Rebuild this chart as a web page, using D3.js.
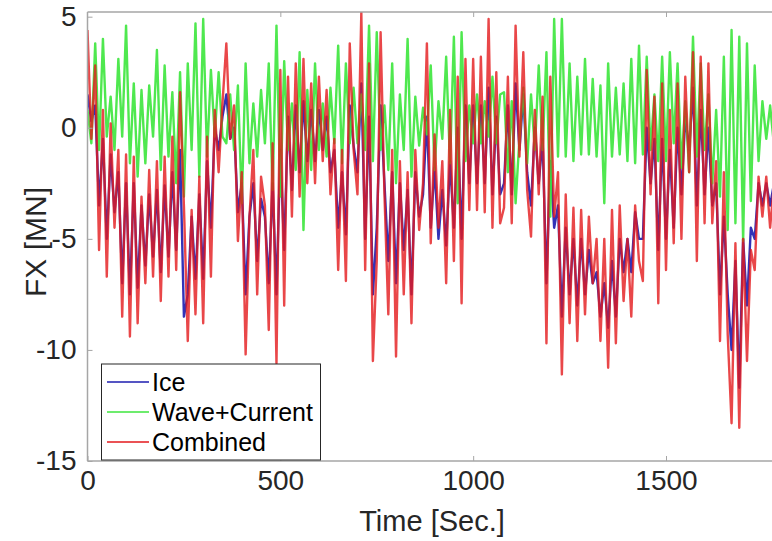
<!DOCTYPE html>
<html>
<head>
<meta charset="utf-8">
<script src="https://cdn.jsdelivr.net/npm/d3@7"></script>
<style>
  body { margin: 0; background: #fff; }
  svg { display: block; }
</style>
</head>
<body>
<div id="chart"></div>
<script>

var width = 772;
var height = 541;
var timeStep = 10;

var iceForce = [
  1.5, 0.3, 1.0, -3.5, -0.5, -5.0, -1.2, -3.8, -2.0, -7.0,
  -2.5, -7.5, -2.5, -7.2, -3.5, -6.2, -3.0, -5.8, -2.8, -6.5,
  -2.6, -5.8, -2.0, -5.5, -1.0, -8.5, -7.5, -4.0, -6.8, -3.0,
  -6.8, -1.5, -4.5, 0.0, -1.0, 0.5,
  1.5, -0.5, 0.0, -3.8, -2.5, -7.5, -4.0, -2.5, -6.0, -3.2,
  -4.0, -7.0, -2.5, -7.5, -1.0, -5.5, 0.5, -2.8, 1.0, -2.0,
  1.2, -1.5, 0.8, -1.5, 0.8, -1.0, 0.5, -2.0, -1.0, -4.5,
  -2.0, -4.8, 1.0, -0.8, -2.0, 2.0,
  -5.0, 0.5, -7.5, -4.5, 1.0, -2.5, -6.0, -2.0, -7.0, -2.5,
  -5.5, -2.8, -7.5, -2.0, -4.0, -3.0, 0.5, -4.5, -1.8, -5.0,
  -2.8, -5.3, -1.5, -4.5, 0.0, -5.0, 1.0, -2.5, 1.0, -2.5,
  1.0, -2.5, 1.8, -3.0, 0.5, -3.0,
  -2.5, 1.0, -3.0, 2.0, -1.0, 1.5, -2.0, -3.5, 0.0, -2.5,
  -0.5, -7.0, -1.5, -4.5, -3.5, -8.5, -4.5, -7.5, -5.0, -8.0,
  -5.0, -7.5, -5.5, -7.0, -6.5, -8.5, -7.0, -9.0, -6.0, -8.5,
  -5.0, -6.5, -5.0, -6.5, -3.8, -5.0,
  -5.0, 0.0, -2.5, -0.5, -5.5, -0.5, -5.0, -1.0, -4.5, 0.0,
  -3.0, 0.5, -1.0, 1.8, -3.5, 0.8, -3.0, 0.0, -3.5, -2.5,
  -7.5, -4.0, -7.5, -10.0, -6.0, -11.7, -5.0, -8.0, -4.5, -5.0,
  -2.5, -3.5, -2.5, -3.5, -2.5, -3.5
];

var waveForce = [
  0.8, -0.7, 3.8, -1.0, 4.0, -0.4, 1.4, -1.0, 3.1, -0.4,
  4.6, -1.6, 2.0, -2.2, 1.7, -1.6, 1.9, -0.4, 3.5, -1.9,
  2.8, -1.3, 1.6, -2.5, 2.5, -3.1, 2.9, -1.0, 4.7, -2.2,
  4.9, -1.3, 2.6, -0.4, 2.5, -0.4,
  -0.7, 1.5, -1.0, 1.9, -3.4, 2.9, -1.6, 1.1, -1.3, 1.7,
  -0.7, 2.9, -2.8, 4.6, -3.1, 3.0, -1.0, 1.1, -1.9, 3.4,
  -4.6, 1.7, -1.9, 2.9, -1.0, 1.1, -1.3, 1.8, -0.7, 3.7,
  -1.6, 2.9, -0.7, 1.8, -0.7, 1.5,
  -1.0, 4.6, -1.5, 4.3, -1.0, 1.0, -1.9, 2.9, -2.5, 1.5,
  -1.0, 4.0, -2.2, 1.4, -0.8, 0.9, -0.3, 2.8, -1.9, 1.2,
  -0.5, 3.2, -1.6, 4.1, -3.4, 4.3, -1.5, 1.0, -0.7, 1.5,
  -0.7, 1.2, -0.4, 2.3, -0.7, 1.5,
  1.6, -2.0, 1.2, -3.4, -0.5, 1.8, -1.6, 1.5, -1.0, 2.8,
  -1.0, 3.4, -4.0, 4.9, -1.3, 4.9, -1.3, 2.9, -1.5, 2.3,
  -1.2, 3.1, -1.2, 2.2, -1.3, 1.9, -3.4, 2.9, -1.3, 1.8,
  -1.2, 2.0, -1.5, 3.1, -1.6, 3.7,
  -1.2, 3.2, -1.0, 1.5, -1.5, 3.2, -1.5, 3.4, -0.7, 2.9,
  -1.8, 1.2, -2.0, 4.1, -1.3, 2.9, -1.0, 1.5, -2.5, 0.8,
  -3.1, 3.2, -4.6, 4.4, -4.3, 4.1, -5.1, 3.8, -3.3, 2.8,
  -1.5, 1.2, -0.5, 1.0, -0.8, 1.5
];

var combinedForce = [
  4.4, -0.5, 2.8, -5.5, 0.8, -6.7, 0.2, -4.5, -1.0, -8.5,
  -1.2, -9.4, -1.3, -8.8, -3.1, -7.0, -1.9, -6.7, -1.5, -7.8,
  -1.3, -6.7, -0.4, -6.4, 1.6, -3.5, -9.6, -3.7, -8.4, -2.2,
  -8.8, -0.4, -6.7, 0.8, -2.0, 1.1,
  3.8, -0.5, 1.0, -5.1, -2.0, -10.2, -4.0, -1.0, -7.5, -2.2,
  -3.5, -9.1, -0.7, -10.6, 2.6, -8.0, 2.3, -4.0, 2.9, -3.1,
  3.1, -2.5, 2.0, -2.5, 2.3, -1.5, 1.7, -3.0, -0.5, -6.4,
  -1.0, -6.9, 3.8, -1.0, -3.0, 5.2,
  -6.4, 2.9, -10.5, -6.0, 4.3, -3.0, -8.4, -1.0, -10.3, -1.5,
  -7.5, -2.0, -8.8, -1.0, -4.6, -2.5, 3.8, -5.2, -0.3, -4.5,
  -1.5, -7.0, 0.8, -6.0, 2.3, -7.9, 3.1, -3.7, 3.1, -3.7,
  3.2, -3.8, 4.9, -4.5, 2.5, -4.3,
  -3.6, 2.3, -4.3, 4.6, -1.3, 3.4, -2.8, -4.9, 0.8, -3.0,
  1.4, -9.7, 2.3, -4.0, -2.0, -11.1, -3.0, -8.8, -3.6, -9.6,
  -3.7, -8.4, -4.0, -7.0, -5.0, -9.6, -5.0, -10.8, -3.7, -9.7,
  -3.5, -7.8, -5.0, -8.5, -3.5, -6.0,
  -6.9, 2.6, -3.0, 1.4, -7.9, 2.0, -6.4, 0.8, -5.2, 2.0,
  -5.0, 2.3, -2.0, 3.4, -6.0, 3.2, -4.3, 2.9, -4.3, -1.5,
  -9.6, -2.0, -9.3, -13.3, -5.2, -13.5, -5.0, -10.5, -5.5, -6.4,
  -2.2, -4.0, -2.2, -4.5, -2.5, -4.0
];

var seriesNames = ["Ice", "Wave+Current", "Combined"];
var seriesColors = ["#1c1caf", "#3ce63c", "#e3191c"];
var xTicks = [0, 500, 1000, 1500];
var yTicks = [-15, -10, -5, 0, 5];

var series = [iceForce, waveForce, combinedForce].map(function(values, k) {
  return {
    name: seriesNames[k],
    color: seriesColors[k],
    points: values.map(function(v, i) { return {t: i * timeStep, v: v}; })
  };
});

var plotLeft = 87.5, plotTop = 12, plotBottom = 461;
var fontFamily = "'Liberation Sans', Arial, Helvetica, sans-serif";

var x = d3.scaleLinear().domain([0, 1500]).range([plotLeft, 666]);
var y = d3.scaleLinear().domain([-15, 5]).range([plotBottom, 16.7]);
var plotRight = x(1800);

var svg = d3.select("#chart").append("svg")
  .attr("width", width)
  .attr("height", height);

svg.append("defs").append("clipPath").attr("id", "plotClip")
  .append("rect")
  .attr("x", plotLeft).attr("y", plotTop)
  .attr("width", plotRight - plotLeft).attr("height", plotBottom - plotTop);

var line = d3.line()
  .x(function(d) { return x(d.t); })
  .y(function(d) { return y(d.v); });

var lines = svg.append("g").attr("clip-path", "url(#plotClip)");
lines.selectAll("path")
  .data(series)
  .enter()
  .append("path")
  .attr("d", function(d) { return line(d.points); })
  .attr("fill", "none")
  .attr("stroke", function(d) { return d.color; })
  .attr("stroke-width", 2.4)
  .attr("stroke-linejoin", "round")
  .attr("stroke-opacity", function(d, i) { return i == 2 ? 0.8 : 0.9; });

// axes (matlab style box, ticks pointing inwards)
var axisColor = "#a6a6a6";
var textColor = "#262626";
var plainNumber = function(d) { return String(d); };

var bottomAxis = svg.append("g")
  .attr("transform", "translate(0," + plotBottom + ")")
  .call(d3.axisBottom(x).tickValues(xTicks).tickSize(-5).tickPadding(9).tickFormat(plainNumber));
var topAxis = svg.append("g")
  .attr("transform", "translate(0," + plotTop + ")")
  .call(d3.axisTop(x).tickValues(xTicks.slice(1)).tickSize(-5).tickFormat(""));
var leftAxis = svg.append("g")
  .attr("transform", "translate(" + plotLeft + ",0)")
  .call(d3.axisLeft(y).tickValues(yTicks).tickSize(-5).tickPadding(11).tickFormat(plainNumber));

[bottomAxis, topAxis, leftAxis].forEach(function(g) {
  g.select(".domain").attr("stroke", axisColor).attr("stroke-width", 1.5);
  g.selectAll(".tick line").attr("stroke", axisColor);
  g.selectAll("text")
    .attr("fill", textColor)
    .style("font-family", fontFamily)
    .style("font-size", "28px");
});
topAxis.select(".domain").attr("d", "M" + plotLeft + ",0H" + plotRight);
bottomAxis.select(".domain").attr("d", "M" + plotLeft + ",0H" + plotRight);
leftAxis.select(".domain").attr("d", "M0," + plotTop + "V" + plotBottom);

svg.append("text")
  .attr("x", 432)
  .attr("y", 531)
  .attr("text-anchor", "middle")
  .attr("fill", textColor)
  .style("font-family", fontFamily)
  .style("font-size", "29px")
  .text("Time [Sec.]");

svg.append("text")
  .attr("transform", "translate(46,242) rotate(-90)")
  .attr("text-anchor", "middle")
  .attr("fill", textColor)
  .style("font-family", fontFamily)
  .style("font-size", "30px")
  .text("FX [MN]");

// legend
var legend = svg.append("g");
legend.append("rect")
  .attr("x", 101.5).attr("y", 364)
  .attr("width", 219).attr("height", 96)
  .attr("fill", "#fff")
  .attr("stroke", "#262626")
  .attr("stroke-width", 1);

var legendRows = legend.selectAll("g.row")
  .data(series)
  .enter()
  .append("g")
  .attr("class", "row")
  .attr("transform", function(d, i) { return "translate(0," + (382 + i * 30) + ")"; });

legendRows.append("line")
  .attr("x1", 107).attr("x2", 149)
  .attr("y1", 0).attr("y2", 0)
  .attr("stroke", function(d) { return d.color; })
  .attr("stroke-width", 1.5);

legendRows.append("text")
  .attr("x", 152)
  .attr("y", 0)
  .attr("dy", "0.35em")
  .attr("fill", "#000")
  .style("font-family", fontFamily)
  .style("font-size", "25px")
  .text(function(d) { return d.name; });
</script>
</body>
</html>
